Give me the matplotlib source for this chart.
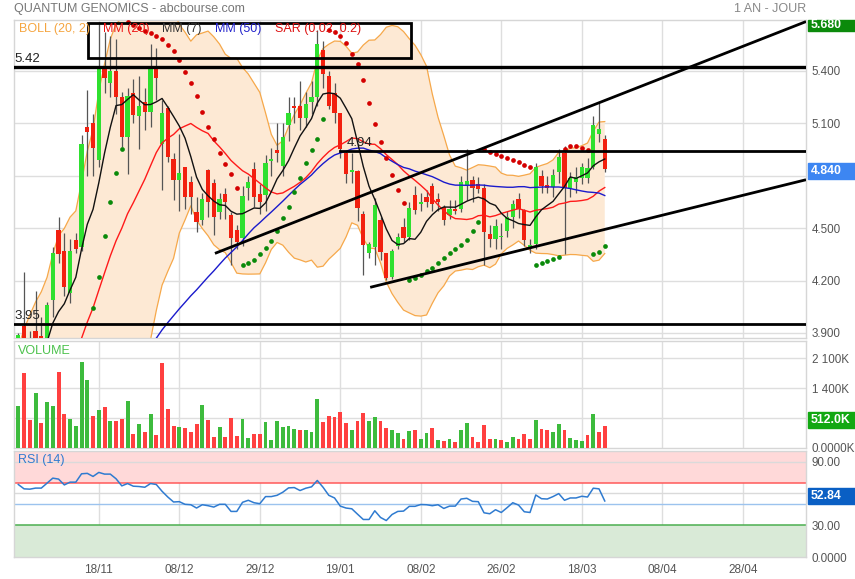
import numpy as np
import pandas as pd
import matplotlib
matplotlib.use("Agg")
import matplotlib.pyplot as plt
from matplotlib.patches import Rectangle

plt.rcParams['font.family'] = ['Liberation Sans', 'DejaVu Sans']

# ---- daily sessions (oldest first) ----
opens = [3.80, 3.94, 3.87, 3.91, 3.88, 3.86, 4.09, 4.49, 4.37, 4.13,
         4.43, 4.39, 5.075, 5.10, 4.89, 5.41, 5.33, 5.40, 5.25, 5.02,
         5.27, 5.142, 5.22, 5.165, 5.41, 4.98, 5.186, 4.894, 4.774, 4.849,
         4.763, 4.591, 4.546, 4.831, 4.757, 4.591, 4.694, 4.574, 4.489, 4.443,
         4.729, 4.837, 4.694, 4.689, 4.885, 4.946, 4.854, 5.089, 5.197, 5.197,
         5.129, 5.22, 5.25, 5.52, 5.37, 5.27, 5.155, 4.93, 4.82, 4.828,
         4.58, 4.355, 4.393, 4.546, 4.359, 4.222, 4.397, 4.504, 4.45, 4.689,
         4.64, 4.679, 4.742, 4.666, 4.622, 4.574, 4.607, 4.607, 4.745, 4.774,
         4.751, 4.727, 4.464, 4.435, 4.45, 4.485, 4.565, 4.664, 4.603, 4.384,
         4.409, 4.797, 4.746, 4.736, 4.822, 4.927, 4.727, 4.765, 4.784, 4.784,
         4.85, 5.035, 5.01]
highs = [3.90, 4.25, 3.91, 4.14, 3.99, 4.08, 4.39, 4.565, 4.47, 4.44,
         4.47, 5.03, 5.29, 5.15, 5.68, 5.62, 5.60, 5.58, 5.28, 5.30,
         5.35, 5.37, 5.30, 5.55, 5.53, 5.23, 5.20, 4.93, 5.04, 4.85,
         4.80, 4.68, 4.70, 4.84, 4.78, 4.70, 4.73, 4.59, 4.52, 4.74,
         4.80, 4.88, 4.75, 4.92, 4.96, 5.10, 5.10, 5.25, 5.25, 5.34,
         5.28, 5.34, 5.63, 5.57, 5.40, 5.33, 5.16, 4.94, 4.93, 4.83,
         4.60, 4.42, 4.67, 4.565, 4.36, 4.38, 4.47, 4.555, 4.65, 4.74,
         4.70, 4.72, 4.76, 4.70, 4.63, 4.66, 4.66, 4.80, 4.95, 4.80,
         4.79, 4.75, 4.52, 4.55, 4.53, 4.60, 4.66, 4.70, 4.61, 4.44,
         4.87, 4.83, 4.80, 4.84, 4.95, 4.97, 4.82, 4.85, 4.87, 4.90,
         5.14, 5.22, 5.03]
lows = [3.75, 3.80, 3.78, 3.82, 3.80, 3.84, 3.99, 4.30, 4.11, 4.07,
        4.36, 4.37, 4.80, 4.80, 4.85, 5.27, 5.25, 5.15, 4.965, 4.81,
        5.10, 4.95, 5.06, 5.08, 5.23, 4.72, 4.88, 4.66, 4.60, 4.61,
        4.58, 4.48, 4.52, 4.565, 4.46, 4.55, 4.55, 4.29, 4.38, 4.40,
        4.66, 4.62, 4.58, 4.60, 4.80, 4.88, 4.80, 5.00, 5.10, 5.06,
        5.08, 5.15, 5.20, 5.30, 5.18, 5.10, 4.90, 4.76, 4.76, 4.54,
        4.23, 4.33, 4.29, 4.32, 4.203, 4.21, 4.38, 4.42, 4.43, 4.58,
        4.60, 4.62, 4.60, 4.60, 4.52, 4.55, 4.58, 4.59, 4.66, 4.65,
        4.70, 4.29, 4.39, 4.38, 4.38, 4.45, 4.50, 4.56, 4.40, 4.36,
        4.38, 4.70, 4.70, 4.68, 4.76, 4.35, 4.68, 4.70, 4.75, 4.76,
        4.84, 4.99, 4.82]
closes = [3.89, 3.85, 3.82, 3.87, 3.85, 4.06, 4.355, 4.35, 4.165, 4.37,
          4.38, 4.98, 5.05, 4.955, 5.41, 5.355, 5.40, 5.25, 5.02, 5.254,
          5.146, 5.197, 5.165, 5.41, 5.355, 5.157, 4.906, 4.774, 4.814, 4.677,
          4.675, 4.534, 4.666, 4.649, 4.563, 4.666, 4.649, 4.443, 4.42, 4.683,
          4.763, 4.677, 4.649, 4.871, 4.89, 4.929, 5.02, 5.157, 5.186, 5.129,
          5.21, 5.25, 5.55, 5.38, 5.20, 5.155, 4.95, 4.81, 4.83, 4.612,
          4.403, 4.41, 4.631, 4.365, 4.212, 4.37, 4.447, 4.441, 4.612, 4.603,
          4.647, 4.648, 4.635, 4.65, 4.546, 4.607, 4.599, 4.765, 4.77, 4.727,
          4.721, 4.475, 4.435, 4.511, 4.455, 4.561, 4.637, 4.607, 4.431, 4.403,
          4.85, 4.742, 4.731, 4.803, 4.908, 4.727, 4.784, 4.79, 4.847, 4.845,
          5.089, 5.066, 4.84]
# earlier closes, only used to warm up the moving averages
prior_closes = [2.78, 2.82, 2.80, 2.85, 2.83, 2.80, 2.84, 2.82, 2.80, 2.83,
                2.80, 2.84, 2.86, 2.82, 2.88, 2.85, 2.92,
                3.20, 3.32, 3.40, 3.38, 3.46, 3.52, 3.58, 3.60]
# parabolic SAR state carried over from the earlier sessions
sar_seed = 2.65
sar_seed_af = 0.04

volumes_k = [988, 1750, 646, 1283, 583, 1066, 972, 1773, 801, 677,
             521, 2014, 1594, 739, 879, 949, 630, 630, 669, 1112,
             319, 568, 381, 793, 311, 1983, 918, 521, 490, 459,
             381, 552, 1011, 646, 257, 490, 257, 692, 288, 677,
             226, 334, 334, 599, 179, 622, 482, 506, 443, 428,
             428, 366, 1151, 607, 747, 723, 848, 583, 412, 622,
             824, 622, 716, 638, 467, 412, 342, 218, 389, 412,
             210, 358, 467, 194, 171, 210, 148, 420, 576, 249,
             132, 544, 202, 210, 179, 132, 257, 218, 319, 218,
             653, 443, 412, 381, 552, 420, 233, 179, 163, 311,
             786, 373, 512]
rsi14 = [68.4, 64.3, 64.0, 65.0, 65.0, 69.7, 74.4, 73.5, 68.0, 70.6,
         70.6, 78.5, 78.9, 76.0, 79.8, 78.2, 78.2, 73.8, 67.1, 69.3,
         66.8, 66.5, 65.8, 69.3, 68.4, 62.0, 56.6, 51.9, 52.2, 49.7,
         49.3, 46.2, 49.3, 48.4, 47.1, 49.7, 49.7, 43.0, 43.0, 51.6,
         53.5, 51.2, 50.3, 57.0, 57.0, 58.2, 61.1, 65.2, 65.5, 62.7,
         64.9, 66.2, 72.2, 65.8, 58.2, 55.7, 48.0, 46.2, 45.5, 40.4,
         35.4, 35.4, 43.6, 37.3, 34.4, 40.1, 43.0, 43.3, 47.8, 47.8,
         49.5, 49.3, 48.4, 49.3, 45.8, 48.0, 48.0, 54.7, 55.4, 52.5,
         52.2, 41.7, 40.8, 44.6, 42.0, 46.5, 51.2, 49.0, 42.7, 42.0,
         58.5, 55.0, 54.7, 57.0, 59.8, 53.5, 55.7, 55.7, 57.3, 56.6,
         64.9, 64.3, 52.84]

tick_index = [14, 28, 42, 56, 70, 84, 98, 112, 126]
tick_dates = ['18/11', '08/12', '29/12', '19/01', '08/02', '26/02', '18/03', '08/04', '28/04']

# drawn levels and trend lines (bar index, price)
levels = [5.42, 4.94, 3.95]
level_start = [None, 55.9, None]
trend_upper = [(34.2, 4.355), (137.0, 5.68)]
trend_lower = [(61.2, 4.161), (137.0, 4.776)]

# ---- indicators ----
o = np.array(opens); h = np.array(highs); l = np.array(lows); c = np.array(closes)
n = len(c)
x = np.arange(n)
full = pd.Series(prior_closes + closes)
k = len(prior_closes)
ma7 = full.rolling(7).mean().values[k:]
ma20 = full.rolling(20).mean().values[k:]
ma50 = full.rolling(50, min_periods=50 - k).mean().values[k:]
sd20 = full.rolling(20).std(ddof=0).values[k:]
boll_up = ma20 + 2 * sd20
boll_dn = ma20 - 2 * sd20


def parabolic_sar(hi, lo, start, af0, step=0.02, max_af=0.2):
    out = np.zeros(len(hi))
    rising = np.zeros(len(hi), dtype=bool)
    up, af, ep, s = True, af0, hi[0], start
    out[0], rising[0] = s, True
    for t in range(1, len(hi)):
        s = s + af * (ep - s)
        if up:
            s = min(s, lo[t - 1], lo[max(t - 2, 0)])
            if lo[t] < s:
                up, s, ep, af = False, ep, lo[t], step
            elif hi[t] > ep:
                ep, af = hi[t], min(af + step, max_af)
        else:
            s = max(s, hi[t - 1], hi[max(t - 2, 0)])
            if hi[t] > s:
                up, s, ep, af = True, ep, hi[t], step
            elif lo[t] < ep:
                ep, af = lo[t], min(af + step, max_af)
        out[t], rising[t] = s, up
    return out, rising


sar, sar_up = parabolic_sar(h, l, sar_seed, sar_seed_af)

# ---- figure layout (pixel boxes) ----
W, H = 855, 579
fig = plt.figure(figsize=(W / 100, H / 100), dpi=100)


def box(x0, y0, x1, y1):
    return [x0 / W, 1 - y1 / H, (x1 - x0) / W, (y1 - y0) / H]


ax_p = fig.add_axes(box(14, 20, 806, 338))
ax_v = fig.add_axes(box(14, 341, 806, 448), sharex=ax_p)
ax_r = fig.add_axes(box(14, 451, 806, 557), sharex=ax_p)

GRID = '#dedede'
TXT = '#555555'
for ax in (ax_p, ax_v, ax_r):
    for sp in ax.spines.values():
        sp.set_color('#d6d6d6')
        sp.set_linewidth(1)
    ax.yaxis.tick_right()
    ax.tick_params(axis='y', length=0, pad=4, labelsize=8.4, labelcolor=TXT)
    ax.tick_params(axis='x', length=0)
    for t in tick_index:
        ax.axvline(t, color=GRID, lw=1, zorder=0)

ax_p.set_xlim(-0.75, 137.0)

# ---- price panel ----
ax_p.set_ylim(3.8714, 5.689)
yt = [3.9, 4.2, 4.5, 4.8, 5.1, 5.4]
ax_p.set_yticks(yt)
ax_p.set_yticklabels([f'{v:.3f}' for v in yt])
for v in yt:
    ax_p.axhline(v, color=GRID, lw=1, zorder=0)
ax_p.tick_params(axis='x', labelbottom=False)

ax_p.fill_between(x, boll_dn, boll_up, color='#fde9d4', lw=0, zorder=1)
ax_p.plot(x, boll_up, color='#f6a84a', lw=0.9, zorder=2)
ax_p.plot(x, boll_dn, color='#f6a84a', lw=0.9, zorder=2)
ax_p.plot(x, ma20, color='#ff1a1a', lw=1.0, zorder=5)
ax_p.plot(x, ma50, color='#1a1acc', lw=1.0, zorder=5)
ax_p.plot(x, ma7, color='#111111', lw=1.0, zorder=5)

rising = c >= o
ax_p.vlines(x, l, h, color='#555555', lw=0.9, zorder=3)
body_lo = np.minimum(o, c)
body_h = np.maximum(np.abs(c - o), 0.007)
ax_p.bar(x, body_h, bottom=body_lo, width=0.72,
         color=np.where(rising, '#2fe02f', '#f2200f'), edgecolor='none', zorder=4)

ax_p.plot(x[sar_up], sar[sar_up], 'o', color='#0a8a0a', ms=3.4, mec='none', zorder=6)
ax_p.plot(x[~sar_up], sar[~sar_up], 'o', color='#d40000', ms=3.4, mec='none', zorder=6)

for lv, st in zip(levels, level_start):
    x0 = -0.75 if st is None else st
    ax_p.plot([x0, 137.0], [lv, lv], color='black', lw=2.4 if lv == 5.42 else 2.0, zorder=7)
    ax_p.text(x0 + 0.15 if st is None else x0 + 1.2, lv + 0.012, f'{lv:.2f}',
              fontsize=9.5, color='#222222', va='bottom', ha='left', zorder=8)
for (xa, ya), (xb, yb) in (trend_upper, trend_lower):
    ax_p.plot([xa, xb], [ya, yb], color='black', lw=2.0, zorder=7, solid_capstyle='butt')
ax_p.add_patch(Rectangle((12.07, 5.473), 68.24 - 12.07, 5.673 - 5.473,
                         fill=False, ec='black', lw=2.0, zorder=8))

# ---- volume panel ----
ax_v.set_ylim(0, 2505)
vt = [0, 700, 1400, 2100]
ax_v.set_yticks(vt)
ax_v.set_yticklabels(['0.0000K', '700K', '1 400K', '2 100K'])
for v in vt[1:]:
    ax_v.axhline(v, color=GRID, lw=1, zorder=0)
ax_v.tick_params(axis='x', labelbottom=False)
prev = np.concatenate([[prior_closes[-1]], c[:-1]])
vol_up = c >= prev
ax_v.bar(x, volumes_k, width=0.68, color=np.where(vol_up, '#3dbb3d', '#ff4040'),
         edgecolor='none', zorder=3)

# ---- RSI panel ----
ax_r.set_ylim(0, 100)
ax_r.axhspan(70, 100, color='#ffd9d9', lw=0, zorder=0)
ax_r.axhspan(0, 30, color='#d9ead7', lw=0, zorder=0)
for v in (60, 90):
    ax_r.axhline(v, color='#dadada', lw=1, zorder=0.5)
ax_r.axhline(70, color='#ff5a5a', lw=1.1, zorder=1)
ax_r.axhline(30, color='#4caf50', lw=1.1, zorder=1)
ax_r.axhline(50, color='#9cc3ee', lw=1.0, zorder=1)
ax_r.plot(x, rsi14, color='#2f7bd0', lw=1.1, zorder=3)
rt = [0, 30, 60, 90]
ax_r.set_yticks(rt)
ax_r.set_yticklabels(['0.0000', '30.00', '60.00', '90.00'])
ax_r.set_xticks(tick_index)
ax_r.set_xticklabels(tick_dates)
ax_r.tick_params(axis='x', labelsize=8.5, labelcolor=TXT, pad=5)

# ---- labels and value boxes ----
def fig_text(px, py, s, **kw):
    fig.text(px / W, 1 - py / H, s, **kw)


fig_text(14, 9, 'QUANTUM GENOMICS - abcbourse.com', fontsize=9, color='#777777', va='center')
fig_text(806, 9, '1 AN - JOUR', fontsize=9, color='#888888', va='center', ha='right')

legend = [('BOLL (20, 2)', '#f5a540', 19), ('MM (20)', '#ee1111', 103),
          ('MM (7)', '#333333', 162), ('MM (50)', '#2222cc', 215),
          ('SAR (0.02, 0.2)', '#dd1111', 275)]
for s, col, px in legend:
    fig_text(px, 29, s, fontsize=9, color=col, va='center', zorder=10)
fig_text(18, 351, 'VOLUME', fontsize=9, color='#4cc24c', va='center')
fig_text(18, 460, 'RSI (14)', fontsize=9, color='#2f7bd0', va='center')


def value_box(py0, py1, s, col):
    fig.patches.append(Rectangle((808 / W, 1 - py1 / H), (855 - 808) / W, (py1 - py0) / H,
                                 transform=fig.transFigure, color=col, zorder=10))
    fig_text(811, (py0 + py1) / 2, s, fontsize=8.8, color='white', va='center',
             fontweight='bold', zorder=11)


value_box(20, 31, f'{trend_upper[1][1]:.3f}', '#0b8a0b')
value_box(163, 179, f'{closes[-1]:.3f}', '#3d86f2')
value_box(412, 428, f'{volumes_k[-1]:.1f}K', '#12a812')
value_box(488, 504, f'{rsi14[-1]:.2f}', '#0a5fc4')

fig.savefig('out.png', dpi=100)
